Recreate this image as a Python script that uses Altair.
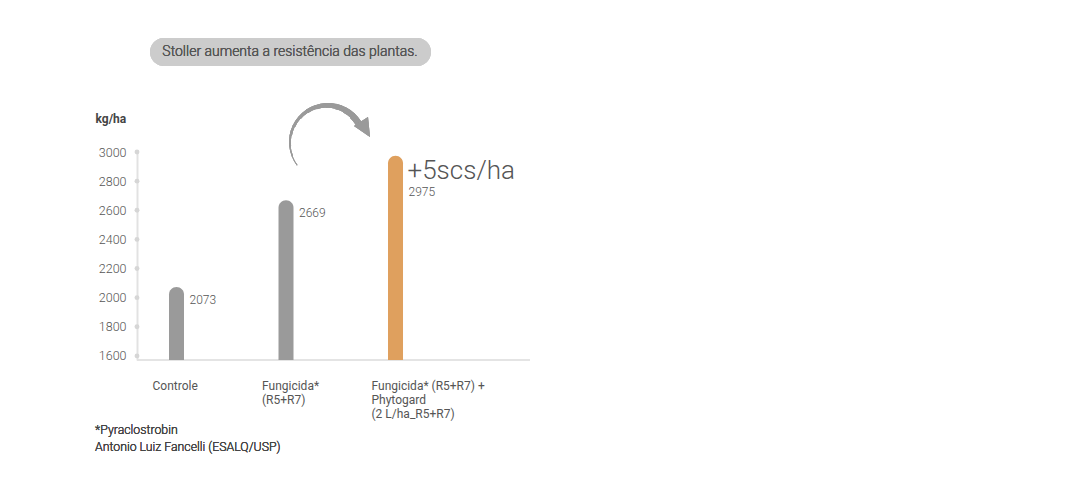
import math
import altair as alt
import pandas as pd

# ---- data ----
categories = ["Controle", "Fungicida* (R5+R7)", "Fungicida* (R5+R7) + Phytogard (2 L/ha_R5+R7)"]
label_lines = [["Controle"], ["Fungicida*", "(R5+R7)"], ["Fungicida* (R5+R7) +", "Phytogard", "(2 L/ha_R5+R7)"]]
values = [2073, 2669, 2975]
bar_colors = ["#9a9a9a", "#9a9a9a", "#dfa05e"]
y_ticks = [1600, 1800, 2000, 2200, 2400, 2600, 2800, 3000]
title_text = "Stoller aumenta a resistência das plantas."
gain_text = "+5scs/ha"
foot_lines = ["*Pyraclostrobin", "Antonio Luiz Fancelli (ESALQ/USP)"]

FONT = "Roboto"
LIGHT = 300
W, H = 393, 208
YMIN, YMAX = 1572, 3000

df = pd.DataFrame({
    "cat": categories,
    "value": values,
    "color": bar_colors,
    "label": ["\n".join(l) for l in label_lines],
    "vtxt": [str(v) for v in values],
    "hi": [False, False, True],
})
ticks_df = pd.DataFrame({"value": y_ticks})

xscale = alt.Scale(domain=categories, paddingInner=0.863, paddingOuter=0.726, align=0.2013)
yscale = alt.Scale(domain=[YMIN, YMAX], nice=False, zero=False)

YAX = alt.Axis(values=y_ticks, format="d", labelOverlap=False, ticks=False,
               labelPadding=11, labelFont=FONT, labelFontWeight=LIGHT,
               labelFontSize=12.5, labelColor="#555", domainColor="#e2e2e2",
               domainWidth=2, grid=False, title="kg/ha", titleAngle=0,
               titleX=-42, titleY=-34, titleAlign="left", titleBaseline="middle",
               titleFont=FONT, titleFontSize=12, titleFontWeight="bold",
               titleColor="#444", zindex=0)

X = alt.X("cat:N", scale=xscale, sort=categories, axis=None)
Yv = alt.Y("value:Q", scale=yscale, axis=YAX, title="kg/ha")

base = alt.Chart(df)

bars = base.mark_bar(cornerRadiusTopLeft=7.5, cornerRadiusTopRight=7.5).encode(
    x=X, y=Yv, y2=alt.datum(YMIN), color=alt.Color("color:N", scale=None),
)

dots = alt.Chart(ticks_df).mark_point(filled=True, size=24, color="#d6d6d6", opacity=1).encode(
    x=alt.value(0), y=Yv
)

baseline = base.mark_rule(color="#e3e3e3", strokeWidth=1.5).encode(
    x=alt.value(0), x2=alt.value(W), y=alt.value(H)
)

vlabels = base.transform_filter("!datum.hi").mark_text(
    align="left", baseline="middle", dx=13, dy=13, font=FONT, fontSize=12, fontWeight=LIGHT,
    color="#555"
).encode(x=X, y=Yv, text="vtxt:N")

vlabel_hi = base.transform_filter("datum.hi").mark_text(
    align="left", baseline="middle", dx=13, dy=36, font=FONT, fontSize=12, fontWeight=LIGHT,
    color="#555"
).encode(x=X, y=Yv, text="vtxt:N")

gain = base.transform_filter("datum.hi").mark_text(
    align="left", baseline="alphabetic", dx=12, dy=23, font=FONT, fontSize=26, fontWeight=LIGHT,
    color="#555"
).encode(x=X, y=Yv, text=alt.value(gain_text))

catlabels = base.mark_text(
    align="left", baseline="top", dx=-24, lineBreak="\n", lineHeight=14, font=FONT,
    fontSize=12, fontWeight=400, color="#555"
).encode(x=X, y=alt.value(229), text="label:N")

pill = base.mark_rect(cornerRadius=14, color="#cccccc").encode(
    x=alt.value(13), x2=alt.value(294), y=alt.value(-114), y2=alt.value(-86)
)
pill_text = base.mark_text(font=FONT, fontSize=14, fontWeight=LIGHT, color="#555",
                           align="center", baseline="middle").encode(
    x=alt.value(153), y=alt.value(-100), text=alt.value(title_text)
)

foot1 = base.mark_text(font=FONT, fontSize=12.3, fontWeight=LIGHT, color="#444", align="left",
                       baseline="middle").encode(
    x=alt.value(-42), y=alt.value(278), text=alt.value(foot_lines[0])
)
foot2 = base.mark_text(font=FONT, fontSize=12.3, fontWeight=LIGHT, color="#444", align="left",
                       baseline="middle").encode(
    x=alt.value(-42), y=alt.value(295), text=alt.value(foot_lines[1])
)

# curved arrow (decoration)
cx, cy, R = 191, -10, 39
a0, a1 = 233.0, 418.0
nseg = 12
arrow_layers = []
for i in range(nseg):
    t0 = a0 + (a1 - a0) * i / nseg
    t1 = a0 + (a1 - a0) * (i + 1) / nseg + 0.5
    th = 0.6 + 6.0 * (i + 0.5) / nseg
    arrow_layers.append(
        base.mark_arc(theta=math.radians(t0), theta2=math.radians(t1), radius=R, radius2=R - th,
                      color="#9a9a9a").encode(x=alt.value(cx), y=alt.value(cy))
    )
head = base.mark_point(shape="M 0.4 -1 L -1 -0.1 L 0.6 1 Z", size=400, filled=True,
                       color="#9a9a9a", opacity=1).encode(x=alt.value(227), y=alt.value(-25))

chart = alt.layer(
    baseline, bars, dots, vlabels, vlabel_hi, gain, catlabels, pill, pill_text, foot1, foot2,
    *arrow_layers, head
).properties(
    width=W, height=H,
    autosize=alt.AutoSizeParams(type="none"),
    padding={"left": 137, "top": 152, "right": 1090 - 137 - W, "bottom": 484 - 152 - H},
).configure(background="white", view=alt.ViewConfig(stroke=None))

chart.save("out.html", embed_options={"renderer": "svg", "actions": False})
